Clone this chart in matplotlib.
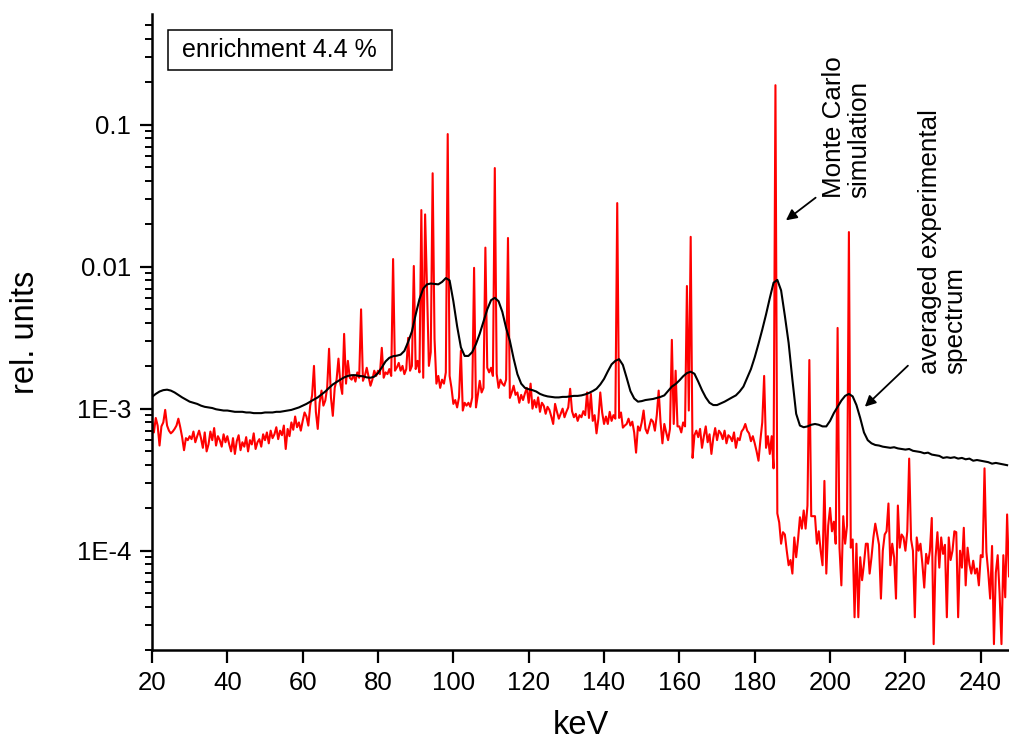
import numpy as np
import matplotlib
matplotlib.use("Agg")
import matplotlib.pyplot as plt
from matplotlib.ticker import FixedLocator, FuncFormatter, NullFormatter
from matplotlib.patches import Rectangle

plt.rcParams['font.family'] = ['Liberation Sans', 'DejaVu Sans']

# Monte Carlo simulation, 0.5 keV channels from 20 keV, values in units of 1e-4
mc_kev = np.arange(20.0, 248.0, 0.5)
mc_e4 = [
    8.2, 6.8, 8.6, 7.6, 5.5, 7.5, 8.0, 9.8, 7.6, 7.0, 6.7, 6.9, 7.2, 7.6, 8.5, 7.4, 6.3, 5.1, 6.2, 6.0,
    6.4, 6.1, 6.9, 5.8, 6.4, 7.0, 6.2, 5.3, 6.8, 5.0, 5.6, 6.9, 6.0, 7.3, 5.5, 6.4, 6.0, 5.4, 6.6, 5.8,
    6.4, 5.6, 5.0, 6.2, 4.8, 5.9, 6.5, 5.1, 5.8, 5.4, 6.3, 5.0, 6.0, 5.6, 6.7, 5.2, 5.8, 6.1, 5.4, 6.6,
    6.0, 6.8, 5.7, 7.0, 6.2, 6.6, 7.4, 6.1, 7.0, 6.5, 7.6, 5.2, 7.2, 6.4, 8.0, 7.1, 8.8, 7.4, 8.0, 7.0,
    8.2, 9.4, 8.8, 7.6, 10.5, 12.4, 20.0, 9.5, 7.2, 11.0, 13.4, 10.5, 11.4, 14.0, 26.4, 12.0, 8.9, 14.0, 16.0, 22.5,
    15.0, 12.7, 33.6, 15.0, 21.7, 16.5, 16.0, 17.2, 15.5, 18.0, 16.5, 50.0, 15.7, 17.0, 19.4, 16.8, 14.5, 16.0, 18.5, 17.0,
    18.5, 17.5, 26.8, 16.5, 18.0, 17.5, 19.0, 17.0, 113.0, 18.5, 19.5, 21.0, 18.5, 20.0, 17.5, 19.0, 31.5, 18.5, 20.0, 101.0,
    19.0, 21.7, 18.0, 250.0, 16.5, 233.0, 71.0, 20.0, 25.0, 454.0, 31.0, 15.0, 17.0, 14.0, 16.0, 15.0, 18.0, 857.0, 17.0, 14.0,
    10.8, 11.5, 10.2, 12.0, 25.6, 9.7, 11.0, 10.5, 11.0, 10.3, 12.0, 98.0, 10.2, 12.5, 15.7, 13.0, 14.0, 136.0, 19.4, 18.0,
    19.4, 17.0, 494.0, 17.6, 14.0, 16.0, 15.0, 14.5, 16.0, 159.0, 11.9, 13.0, 14.5, 12.5, 13.0, 11.0, 12.5, 11.5, 12.8, 14.0,
    11.0, 15.0, 10.0, 11.5, 10.2, 12.0, 9.5, 11.0, 10.5, 9.2, 10.3, 9.8, 8.8, 7.8, 10.8, 9.5, 8.5, 9.2, 10.0, 8.7,
    9.5, 10.2, 13.8, 9.6, 8.7, 9.2, 8.2, 9.0, 8.7, 9.6, 9.0, 13.0, 8.6, 12.7, 8.2, 9.0, 6.7, 8.5, 13.0, 9.4,
    7.8, 8.8, 7.8, 9.5, 8.2, 9.0, 8.5, 280.0, 8.6, 9.4, 7.35, 7.6, 7.8, 8.5, 7.6, 8.1, 6.8, 4.9, 7.5, 7.0,
    8.0, 9.7, 7.2, 6.7, 7.5, 8.4, 8.1, 7.0, 9.0, 13.4, 8.0, 5.7, 7.8, 6.8, 6.0, 7.2, 30.5, 7.8, 18.5, 7.5,
    7.5, 6.8, 8.0, 7.5, 73.0, 9.7, 162.0, 4.5, 6.5, 7.0, 6.3, 7.2, 5.3, 6.4, 7.5, 5.8, 6.6, 4.8, 6.2, 7.3,
    6.0, 7.0, 6.7, 6.1, 7.0, 5.7, 6.5, 6.3, 5.9, 6.8, 5.3, 6.2, 6.0, 6.9, 7.2, 7.8, 7.0, 6.7, 5.9, 6.4,
    5.7, 5.0, 4.3, 6.0, 8.0, 17.0, 5.3, 6.4, 4.8, 6.4, 3.8, 1892.0, 1.83, 1.58, 1.12, 1.35, 1.3, 1.0, 0.79, 0.86,
    0.69, 1.24, 0.9, 1.2, 1.72, 1.43, 1.92, 1.43, 2.08, 22.0, 1.75, 1.75, 1.75, 1.12, 1.37, 1.0, 0.79, 3.1, 0.69, 1.5,
    2.0, 1.37, 1.6, 1.12, 37.0, 1.05, 0.57, 1.75, 1.12, 1.5, 175.0, 1.05, 1.2, 0.34, 1.12, 0.34, 0.9, 0.62, 0.81, 1.12,
    1.12, 0.69, 0.9, 1.24, 1.55, 1.3, 1.1, 0.46, 1.0, 1.3, 1.37, 2.15, 0.79, 1.12, 0.9, 0.46, 2.08, 1.05, 1.3, 1.24,
    1.0, 1.37, 4.45, 1.2, 1.0, 0.34, 1.24, 1.0, 1.12, 0.81, 0.55, 0.95, 0.81, 1.0, 1.7, 0.22, 0.9, 1.35, 0.76, 1.24,
    0.95, 1.1, 0.34, 1.24, 0.86, 1.0, 1.37, 1.35, 0.34, 1.0, 0.76, 1.45, 0.57, 1.05, 0.8, 0.69, 0.85, 0.69, 0.75, 0.57,
    0.93, 0.9, 3.8, 0.98, 0.7, 0.46, 1.08, 0.22, 0.7, 0.93, 0.5, 0.22, 0.93, 0.47, 1.8, 0.66,
]

# averaged experimental spectrum, 1 keV steps from 20 keV, units of 1e-4
exp_kev = np.arange(20, 248, 1)
exp_e4 = [
    12.1, 12.7, 13.2, 13.5, 13.6, 13.4, 13.0, 12.5, 12.0, 11.6,
    11.2, 11.0, 10.8, 10.5, 10.3, 10.2, 10.1, 9.9, 9.8, 9.7,
    9.7, 9.6, 9.5, 9.5, 9.5, 9.4, 9.4, 9.3, 9.3, 9.3,
    9.4, 9.4, 9.4, 9.5, 9.5, 9.6, 9.7, 9.8, 10.0, 10.2,
    10.5, 10.8, 11.2, 11.6, 12.0, 12.6, 13.2, 14.0, 14.8, 15.4,
    16.0, 16.6, 17.0, 17.2, 17.2, 17.0, 16.9, 16.6, 16.5, 16.8,
    17.8, 19.5, 21.5, 22.8, 23.4, 23.6, 24.0, 25.5, 29.5, 35.0,
    46.0, 59.0, 70.0, 75.0, 76.0, 75.5, 75.0, 78.0, 83.0, 80.0,
    57.0, 38.0, 27.0, 23.5, 23.5, 25.0, 28.5, 33.7, 41.0, 50.0,
    58.0, 60.3, 57.0, 48.0, 37.0, 30.0, 22.5, 17.5, 15.0, 14.0,
    13.7, 13.5, 13.2, 12.7, 12.4, 12.2, 12.1, 12.0, 12.0, 12.1,
    12.1, 12.2, 12.3, 12.3, 12.4, 12.6, 12.9, 13.3, 13.8, 14.8,
    16.2, 18.3, 20.5, 21.7, 22.3, 20.3, 16.5, 13.3, 11.8, 11.2,
    11.3, 11.5, 11.6, 11.7, 11.9, 12.1, 12.4, 13.3, 14.3, 14.9,
    15.8, 16.9, 17.8, 18.2, 17.6, 15.5, 13.5, 12.0, 11.0, 10.6,
    10.6, 10.9, 11.2, 11.6, 12.0, 12.4, 13.2, 14.3, 16.5, 19.0,
    23.0, 28.6, 36.0, 46.0, 60.0, 77.0, 80.6, 68.0, 45.0, 29.0,
    16.0, 9.2, 7.6, 7.4, 7.5, 7.7, 7.8, 7.7, 7.5, 7.5,
    8.2, 9.3, 10.3, 11.4, 12.3, 12.7, 12.2, 10.6, 8.6, 6.8,
    6.0, 5.7, 5.55, 5.5, 5.4, 5.35, 5.3, 5.35, 5.25, 5.2,
    5.15, 5.2, 5.05, 5.0, 4.95, 4.85, 4.9, 4.75, 4.7, 4.65,
    4.5, 4.55, 4.5, 4.55, 4.45, 4.5, 4.4, 4.45, 4.3, 4.35,
    4.3, 4.25, 4.2, 4.1, 4.15, 4.1, 4.05, 4.0,
]

y_ticks = [1e-4, 1e-3, 1e-2, 1e-1]
y_ticklabels = ['1E-4', '1E-3', '0.01', '0.1']
x_ticks = [20, 40, 60, 80, 100, 120, 140, 160, 180, 200, 220, 240]

mc = np.array(mc_e4) * 1e-4
exp = np.array(exp_e4) * 1e-4

fig = plt.figure(figsize=(10.09, 7.42), dpi=100)
ax = fig.add_axes([152 / 1009, 92 / 742, 857 / 1009, 636 / 742])

ax.plot(mc_kev, mc, color='#ff0000', lw=1.5)
ax.plot(exp_kev, exp, color='black', lw=1.5)

ax.set_yscale('log')
ax.set_xlim(20, 247.5)
ax.set_ylim(2e-5, 0.6)

ax.spines['top'].set_visible(False)
ax.spines['right'].set_visible(False)
ax.spines['left'].set_linewidth(1.8)
ax.spines['bottom'].set_linewidth(1.8)

ax.xaxis.set_major_locator(FixedLocator(x_ticks))
ax.yaxis.set_major_locator(FixedLocator(y_ticks))
ax.yaxis.set_major_formatter(FuncFormatter(lambda v, p: y_ticklabels[y_ticks.index(v)] if v in y_ticks else ''))
minor = [m * 10.0 ** e for e in range(-5, 0) for m in range(2, 10)]
minor = [v for v in minor if 2e-5 <= v <= 0.6]
ax.yaxis.set_minor_locator(FixedLocator(minor))
ax.yaxis.set_minor_formatter(NullFormatter())
ax.tick_params(axis='x', which='major', direction='out', length=9, width=1.6, labelsize=18.5, pad=6)
ax.tick_params(axis='y', which='major', direction='out', length=9, width=1.6, labelsize=18.5, pad=6)
ax.tick_params(axis='y', which='minor', direction='out', length=5, width=1.4)

ax.set_xlabel('keV', fontsize=23.5, labelpad=11)
ax.set_ylabel('rel. units', fontsize=23.5, labelpad=26)

# label box in the upper left corner
ax.add_patch(Rectangle((0.0187, 0.912), 0.261, 0.063, transform=ax.transAxes,
                       fill=False, edgecolor='black', lw=1.1, clip_on=False))
ax.text(0.0187 + 0.1305, 0.912 + 0.0315, 'enrichment 4.4 %', transform=ax.transAxes,
        ha='center', va='center', fontsize=18)

ax.text(197.8, 0.0303, 'Monte Carlo\nsimulation', rotation=90, ha='left', va='bottom',
        multialignment='left', fontsize=18.7, linespacing=1.1)
ax.annotate('', xy=(187.7, 0.0206), xytext=(196.75, 0.0314),
            arrowprops=dict(arrowstyle='-|>', color='black', lw=1.3, mutation_scale=16))

ax.text(223.3, 1.76e-3, 'averaged experimental\nspectrum', rotation=90, ha='left', va='bottom',
        multialignment='left', fontsize=18.7, linespacing=1.1)
ax.annotate('', xy=(208.7, 1.0e-3), xytext=(221.2, 2.07e-3),
            arrowprops=dict(arrowstyle='-|>', color='black', lw=1.3, mutation_scale=16))

fig.savefig('out.png', dpi=100)
